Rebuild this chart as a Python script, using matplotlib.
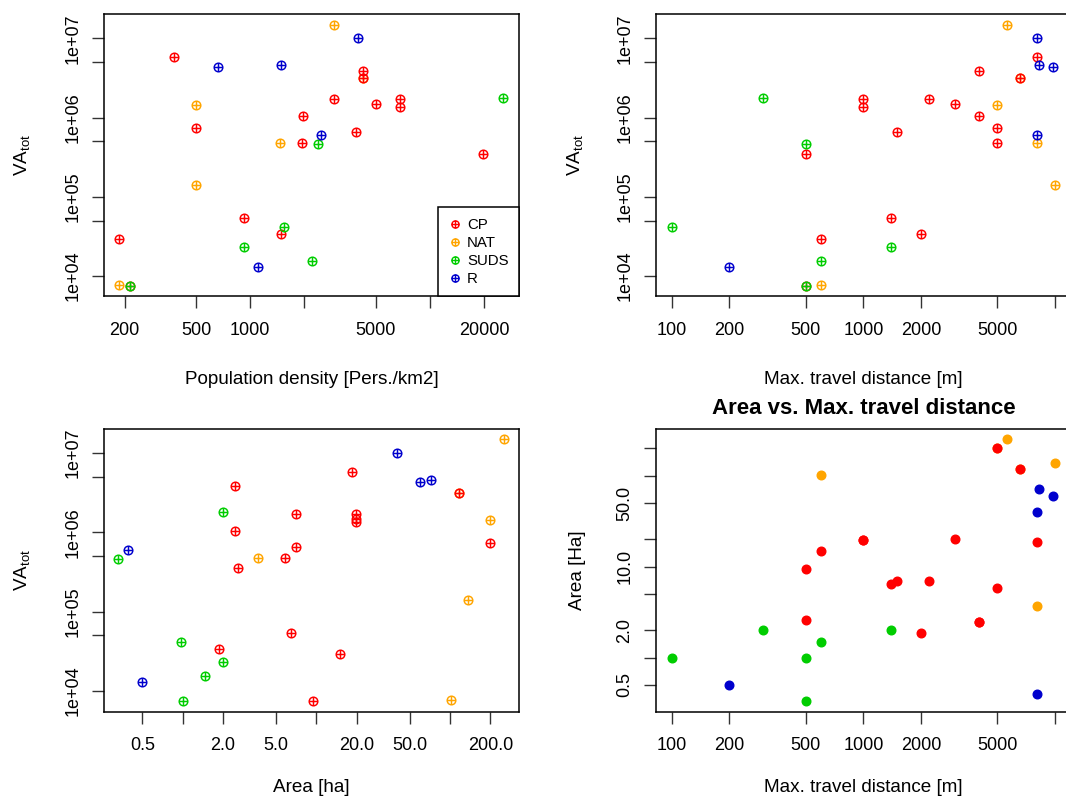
import matplotlib
matplotlib.use('Agg')
import matplotlib.pyplot as plt
from matplotlib.path import Path
from matplotlib.lines import Line2D
from matplotlib.ticker import FixedLocator, FixedFormatter, NullLocator

plt.rcParams['font.family'] = ['Liberation Sans', 'DejaVu Sans']
plt.rcParams['mathtext.fontset'] = 'custom'
plt.rcParams['mathtext.rm'] = 'Liberation Sans'
plt.rcParams['mathtext.it'] = 'Liberation Sans:italic'

# --- data (one entry per site) ---
site_type = ['CP', 'CP', 'CP', 'CP', 'CP', 'CP', 'CP', 'CP', 'CP', 'CP', 'CP',
             'CP', 'CP', 'CP', 'CP', 'CP',
             'NAT', 'NAT', 'NAT', 'NAT', 'NAT', 'NAT',
             'SUDS', 'SUDS', 'SUDS', 'SUDS', 'SUDS', 'SUDS',
             'R', 'R', 'R', 'R', 'R']
pop_density = [379, 4226, 4226, 500, 2930, 6790, 5000, 6790, 1963, 3890, 1940,
               19640, 925, 1480, 186, 214,
               2930, 500, 1470, 500, 186, 4226,
               25600, 2380, 1545, 925, 2208, 214,
               661, 1480, 3956, 2474, 1105]
max_dist = [8000, 4000, 6550, 5000, 1000, 2200, 3000, 1000, 4000, 1500, 5000,
            500, 1400, 2000, 600, 500,
            5610, 5000, 8000, 10000, 600, 6550,
            300, 500, 100, 1400, 600, 500,
            9800, 8220, 8000, 8000, 200]
area = [18.4, 2.48, 117, 200, 19.7, 7.0, 19.9, 19.7, 2.48, 7.0, 5.88,
        2.58, 6.45, 1.87, 15.0, 9.45,
        251, 200, 3.67, 136, 101, 117,
        2.0, 0.33, 0.98, 2.0, 1.48, 1.0,
        60, 71.7, 40, 0.394, 0.5]
va_tot = [5.8e6, 3.84e6, 3.15e6, 7.36e5, 1.72e6, 1.72e6, 1.48e6, 1.35e6, 1.04e6,
          6.6e5, 4.8e5, 3.5e5, 5.37e4, 3.4e4, 2.94e4, 7.43e3,
          1.5e7, 1.43e6, 4.72e5, 1.39e5, 7.6e3, 3.15e6,
          1.79e6, 4.62e5, 4.11e4, 2.32e4, 1.56e4, 7.43e3,
          4.36e6, 4.6e6, 1.0e7, 6.0e5, 1.28e4]

legend_order = ['CP', 'NAT', 'SUDS', 'R']
draw_order = ['NAT', 'CP', 'SUDS', 'R']
colors = {'CP': '#FF0000', 'NAT': '#FFA500', 'SUDS': '#00CD00', 'R': '#0000CD'}

va_ticks = [1e4, 5e4, 1e5, 5e5, 1e6, 5e6, 1e7]
va_labels = ['1e+04', '', '1e+05', '', '1e+06', '', '1e+07']
pop_ticks = [200, 500, 1000, 2000, 5000, 10000, 20000]
pop_labels = ['200', '500', '1000', '', '5000', '', '20000']
dist_ticks = [100, 200, 500, 1000, 2000, 5000, 10000]
dist_labels = ['100', '200', '500', '1000', '2000', '5000', '']
area_ticks = [0.5, 1, 2, 5, 10, 20, 50, 100, 200]
area_x_labels = ['0.5', '', '2.0', '5.0', '', '20.0', '50.0', '', '200.0']
area_y_labels = ['0.5', '', '2.0', '', '10.0', '', '50.0', '', '']

# circle with a plus inside (R pch = 10)
circ_plus = Path.make_compound_path(
    Path.unit_circle(),
    Path([(-1, 0), (1, 0), (0, -1), (0, 1)],
         [Path.MOVETO, Path.LINETO, Path.MOVETO, Path.LINETO]))

W, H = 1066, 799
fig = plt.figure(figsize=(W / 100, H / 100), dpi=100)


def make_axes(left, top, right, bottom):
    ax = fig.add_axes([left / W, 1 - bottom / H, (right - left) / W, (bottom - top) / H])
    ax.set_xscale('log')
    ax.set_yscale('log')
    for s in ax.spines.values():
        s.set_linewidth(1.1)
    ax.tick_params(which='major', direction='out', length=8.5, width=1.0,
                   labelsize=13, color='#333333')
    ax.tick_params(axis='x', pad=10)
    ax.tick_params(axis='y', pad=7.5)
    return ax


def set_ticks(axis, ticks, labels):
    axis.set_major_locator(FixedLocator(ticks))
    axis.set_major_formatter(FixedFormatter(labels))
    axis.set_minor_locator(NullLocator())


def labels(ax, xlabel, ylabel, box, xlab_y, ylab_x):
    left, top, right, bottom = box
    ax.set_xlabel(xlabel, fontsize=13.6, va='center')
    ax.xaxis.set_label_coords(0.5, (bottom - xlab_y) / (bottom - top))
    ax.set_ylabel(ylabel, fontsize=13.6, va='center')
    ax.yaxis.set_label_coords((ylab_x - left) / (right - left), 0.5)
    for t in ax.get_yticklabels():
        t.set_rotation(90)
        t.set_va('center')


def scatter(ax, xs, ys, filled=False):
    for g in draw_order:
        gx = [x for x, t in zip(xs, site_type) if t == g]
        gy = [y for y, t in zip(ys, site_type) if t == g]
        if filled:
            ax.plot(gx, gy, 'o', ms=6.2, color=colors[g], mec=colors[g])
        else:
            ax.plot(gx, gy, ls='none', marker=circ_plus, ms=6.2, mfc='none',
                    mec=colors[g], mew=1.05)


va_label = r'$\mathrm{VA}_{\mathrm{tot}}$'

# top left: VA vs population density
b1 = (103.7, 13.6, 519.1, 296.4)
ax1 = make_axes(*b1)
scatter(ax1, pop_density, va_tot)
ax1.set_xlim(153.2, 31280)
ax1.set_ylim(5520, 2.06e7)
set_ticks(ax1.xaxis, pop_ticks, pop_labels)
set_ticks(ax1.yaxis, va_ticks, va_labels)
labels(ax1, 'Population density [Pers./km2]', va_label, b1, 379, 22)
handles = [Line2D([], [], ls='none', marker=circ_plus, ms=5.2, mfc='none',
                  mec=colors[g], mew=1.0) for g in legend_order]
leg = ax1.legend(handles, legend_order, loc='lower right', fontsize=10.8,
                 frameon=True, fancybox=False, edgecolor='black', framealpha=1,
                 borderaxespad=0, borderpad=0.7, handlelength=0.9,
                 handletextpad=0.35, labelspacing=0.27)
leg.get_frame().set_linewidth(1.1)

# top right: VA vs max travel distance
b2 = (655.7, 13.6, 1071, 296.4)
ax2 = make_axes(*b2)
scatter(ax2, max_dist, va_tot)
ax2.set_xlim(82.6, 12100)
ax2.set_ylim(5520, 2.06e7)
set_ticks(ax2.xaxis, dist_ticks, dist_labels)
set_ticks(ax2.yaxis, va_ticks, va_labels)
labels(ax2, 'Max. travel distance [m]', va_label, b2, 379, 575)

# bottom left: VA vs area
b3 = (103.7, 428.9, 519.1, 711.7)
ax3 = make_axes(*b3)
scatter(ax3, area, va_tot)
ax3.set_xlim(0.2572, 328)
ax3.set_ylim(5470, 2.01e7)
set_ticks(ax3.xaxis, area_ticks, area_x_labels)
set_ticks(ax3.yaxis, va_ticks, va_labels)
labels(ax3, 'Area [ha]', va_label, b3, 787, 22)

# bottom right: area vs max travel distance
b4 = (655.7, 428.9, 1071, 711.7)
ax4 = make_axes(*b4)
scatter(ax4, max_dist, area, filled=True)
ax4.set_xlim(82.6, 12100)
ax4.set_ylim(0.2535, 326.6)
set_ticks(ax4.xaxis, dist_ticks, dist_labels)
set_ticks(ax4.yaxis, area_ticks, area_y_labels)
labels(ax4, 'Max. travel distance [m]', 'Area [Ha]', b4, 787, 577)
ax4.set_title('Area vs. Max. travel distance', fontsize=16, fontweight='bold', pad=11)

fig.savefig('out.png', dpi=100)
